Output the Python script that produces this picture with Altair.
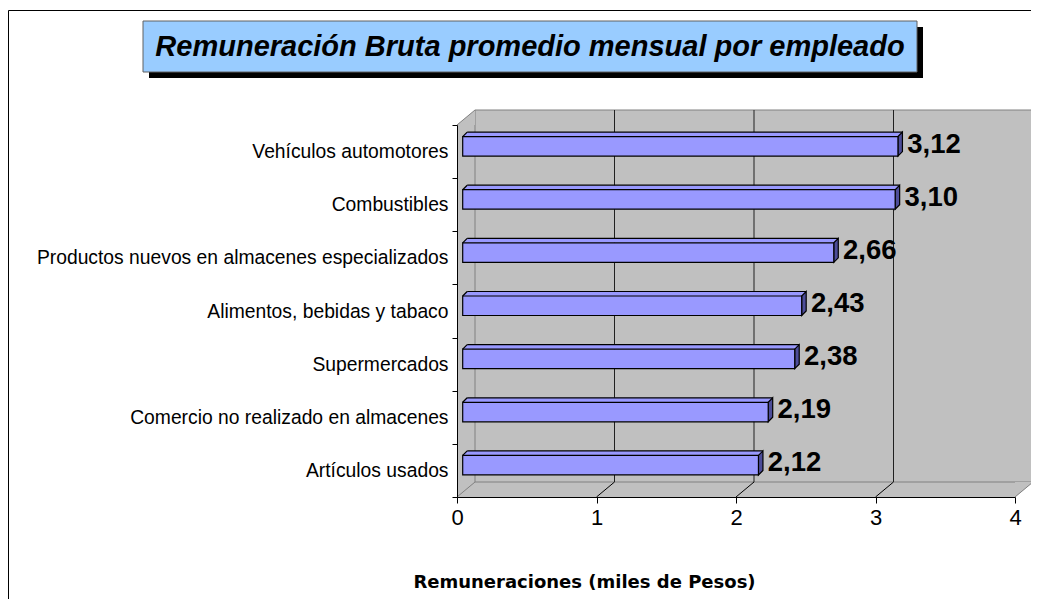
import altair as alt
import pandas as pd

# ---------------- data ----------------
categories = [
    "Vehículos automotores",
    "Combustibles",
    "Productos nuevos en almacenes especializados",
    "Alimentos, bebidas y tabaco",
    "Supermercados",
    "Comercio no realizado en almacenes",
    "Artículos usados",
]
values = [3.12, 3.10, 2.66, 2.43, 2.38, 2.19, 2.12]
x_ticks = [0, 1, 2, 3, 4]
title_text = "Remuneración Bruta promedio mensual por empleado"
x_title = "Remuneraciones (miles de Pesos)"

# ---------------- style / layout ----------------
W, H = 558, 372          # front plot rectangle
DX, DY = 18, 15          # depth of the 3D walls (px)
BX, BD = 5.7, 4.5        # bar front-face shift and bar depth (px)
FONT = "Liberation Sans"
GREY = "#C0C0C0"
EDGE = "#808080"
LIGHT = "#9999FF"
DARK = "#4D4D99"

df = pd.DataFrame({"cat": categories, "val": values})
ticks_df = pd.DataFrame({"k": x_ticks})
lo_df = pd.DataFrame({"k": [x_ticks[0]], "k2": [x_ticks[-1]]})
hi_df = pd.DataFrame({"k": [x_ticks[-1]]})

xs = alt.Scale(domain=[x_ticks[0], x_ticks[-1]], nice=False, zero=True)
ys = alt.Scale(domain=categories, paddingInner=0, paddingOuter=0)

xaxis = alt.Axis(values=x_ticks, format="d", labelFont=FONT, labelFontSize=22,
                 labelColor="black", labelPadding=4, labelFlush=False, tickSize=6,
                 tickColor="black", domainColor="black", grid=False,
                 title=x_title, titleFont="DejaVu Sans", titleFontSize=18,
                 titleFontWeight="bold", titleColor="black", titleX=127, titleY=85,
                 titleAlign="center", titleBaseline="middle", zindex=1)
yaxis = alt.Axis(title=None, labelFont=FONT, labelFontSize=19.3, labelColor="black",
                 labelPadding=4, labelLimit=0, tickBand="extent", tickSize=5,
                 tickColor="black", domainColor="black", grid=False, zindex=1)

Y = alt.Y("cat:N", scale=ys, axis=yaxis)
XV = alt.X("val:Q", scale=xs, axis=xaxis)
XB = alt.X("base:Q", scale=xs, axis=xaxis)
XK = alt.X("k:Q", scale=xs, axis=xaxis)

# ---------------- decorations ----------------
frame = alt.Chart(lo_df).mark_rect(fillOpacity=0, stroke="black", strokeWidth=1).encode(
    x=alt.value(-448.5), x2=alt.value(2000), y=alt.value(-114.5), y2=alt.value(2000))
shadow = alt.Chart(lo_df).mark_rect(color="black").encode(
    x=alt.value(-308), x2=alt.value(466), y=alt.value(-98), y2=alt.value(-47))
tbox = alt.Chart(lo_df).mark_rect(fill="#99CCFF", stroke="#606060", strokeWidth=1).encode(
    x=alt.value(-314), x2=alt.value(460), y=alt.value(-104), y2=alt.value(-53))
ttext = alt.Chart(lo_df).mark_text(text=title_text, font=FONT, fontSize=29, fontWeight="bold",
                                   fontStyle="italic", align="center", baseline="middle",
                                   color="black").encode(x=alt.value(73), y=alt.value(-78))

back_wall = alt.Chart(lo_df).mark_rect(fill=GREY, stroke=EDGE, strokeWidth=1,
                                       xOffset=DX, x2Offset=DX).encode(
    x=XK, x2="k2:Q", y=alt.value(-DY), y2=alt.value(H - DY))
tri_tl = alt.Chart(lo_df).mark_point(shape=f"M0,0 L{DX},{-DY} L{DX},0 Z", size=4, filled=True,
                                     fill=GREY, strokeOpacity=0, opacity=1).encode(
    x=XK, y=alt.value(0))
tri_br = alt.Chart(hi_df).mark_point(shape=f"M0,0 L{DX},{-DY} L0,{-DY} Z", size=4, filled=True,
                                     fill=GREY, strokeOpacity=0, opacity=1).encode(
    x=XK, y=alt.value(H))
diag_tl = alt.Chart(lo_df).mark_rule(color=EDGE, strokeWidth=1, x2Offset=DX).encode(
    x=XK, x2="k:Q", y=alt.value(0), y2=alt.value(-DY))
diag_edges = alt.Chart(ticks_df).transform_filter(
    f"datum.k == {x_ticks[0]} || datum.k == {x_ticks[-1]}").mark_rule(
    color=EDGE, strokeWidth=1, x2Offset=DX).encode(
    x=XK, x2="k:Q", y=alt.value(H), y2=alt.value(H - DY))
diag_inner = alt.Chart(ticks_df).transform_filter(
    f"datum.k > {x_ticks[0]} && datum.k < {x_ticks[-1]}").mark_rule(
    color="black", strokeWidth=1, x2Offset=DX).encode(
    x=XK, x2="k:Q", y=alt.value(H), y2=alt.value(H - DY))
grid = alt.Chart(ticks_df).transform_filter(
    f"datum.k > {x_ticks[0]} && datum.k < {x_ticks[-1]}").mark_rule(
    color="#202020", strokeWidth=1, xOffset=DX).encode(
    x=XK, y=alt.value(-DY), y2=alt.value(H - DY))

# ---------------- bars ----------------
base = alt.Chart(df).transform_calculate(
    base="0", label="replace(format(datum.val, '.2f'), '.', ',')")

FT, FB = -15, 4.5  # front face top / bottom relative to band centre
top_mid = base.mark_bar(height=BD, yOffset=FT - BD / 2, xOffset=BX + BD, x2Offset=BX,
                        color=LIGHT).encode(x=XB, x2="val:Q", y=Y)
tri_left = base.mark_point(shape=f"M{BX},{FT} L{BX+BD},{FT-BD} L{BX+BD},{FT} Z", size=4,
                           filled=True, fill=LIGHT, strokeOpacity=0, opacity=1).encode(x=XB, y=Y)
tri_right = base.mark_point(shape=f"M{BX},{FT} L{BX},{FT-BD} L{BX+BD},{FT-BD} Z", size=4,
                            filled=True, fill=LIGHT, strokeOpacity=0, opacity=1).encode(x=XV, y=Y)
edge_left = base.mark_point(shape=f"M{BX},{FT} L{BX+BD},{FT-BD}", size=4, filled=False,
                            stroke="black", strokeWidth=1.2, fillOpacity=0, opacity=1).encode(x=XB, y=Y)
edge_top = base.mark_rule(color="black", strokeWidth=1.2, xOffset=BX + BD, x2Offset=BX + BD,
                          yOffset=FT - BD).encode(x=XB, x2="val:Q", y=Y)
right_face = base.mark_point(
    shape=f"M{BX},{FT} L{BX},{FB} L{BX+BD},{FB-BD} L{BX+BD},{FT-BD} Z", size=4, filled=True,
    fill=DARK, stroke="black", strokeWidth=1.2, opacity=1).encode(x=XV, y=Y)
front = base.mark_bar(height=FB - FT, yOffset=(FT + FB) / 2, xOffset=BX, x2Offset=BX,
                      color=LIGHT, stroke="black", strokeWidth=1.2).encode(
    x=XB, x2="val:Q", y=Y)
labels = base.mark_text(align="left", baseline="middle", dx=15, dy=-7, font=FONT,
                        fontSize=27.5, fontWeight="bold", color="black").encode(
    x=XV, y=Y, text="label:N")

chart = alt.layer(
    frame, shadow, tbox, ttext,
    back_wall, tri_tl, tri_br, diag_tl, diag_edges, diag_inner, grid,
    top_mid, tri_left, tri_right, right_face, front, edge_left, edge_top, labels,
).properties(
    width=W, height=H,
    autosize=alt.AutoSizeParams(type="none"),
    padding={"left": 449, "top": 117, "right": 16, "bottom": 102},
    background="white",
).configure_view(fill=GREY, stroke=None)

chart.save("out.html", embed_options={"renderer": "svg", "actions": False})
